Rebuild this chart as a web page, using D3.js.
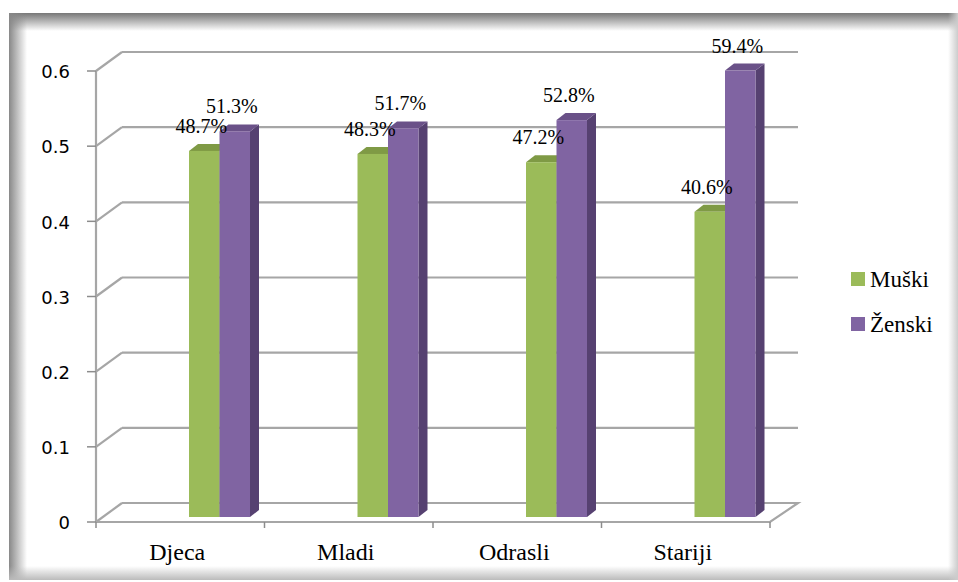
<!DOCTYPE html>
<html>
<head>
<meta charset="utf-8">
<script src="https://cdn.jsdelivr.net/npm/d3@7"></script>
</head>
<body style="margin:0">
<div id="chart"></div>
<script>
var categories = ['Djeca', 'Mladi', 'Odrasli', 'Stariji'];
var seriesNames = ['Muški', 'Ženski'];
var muski = [0.487, 0.483, 0.472, 0.406];
var zenski = [0.513, 0.517, 0.528, 0.594];
var yTicks = [0, 0.1, 0.2, 0.3, 0.4, 0.5, 0.6];

var WIDTH = 958, HEIGHT = 582;
var SERIF = 'Times New Roman', SANS = 'DejaVu Sans';
var colors = {
  'Muški': { front: '#9bbb59', top: '#7f9a45', side: '#6f8a3b' },
  'Ženski': { front: '#8064a2', top: '#6a5188', side: '#564171' }
};

// wall depth and bar depth offsets
var DEPTH_X = 26, DEPTH_Y = -19;
var BAR_DX = 9, BAR_DY = -7;

var svg = d3.select('#chart').append('svg')
  .attr('width', WIDTH)
  .attr('height', HEIGHT);

// frame with soft shadow edges
var defs = svg.append('defs');
function grad(id, x1, y1, x2, y2, c) {
  var g = defs.append('linearGradient').attr('id', id)
    .attr('x1', x1).attr('y1', y1).attr('x2', x2).attr('y2', y2);
  g.append('stop').attr('offset', 0).attr('stop-color', c).attr('stop-opacity', 1);
  g.append('stop').attr('offset', 1).attr('stop-color', c).attr('stop-opacity', 0);
}
grad('gTop', 0, 0, 0, 1, '#777');
grad('gLeft', 0, 0, 1, 0, '#888');
grad('gBottom', 0, 1, 0, 0, '#bbb');
grad('gRight', 1, 0, 0, 0, '#ccc');

svg.append('rect').attr('x', 9).attr('y', 13).attr('width', 949).attr('height', 18).attr('fill', 'url(#gTop)');
svg.append('rect').attr('x', 9).attr('y', 13).attr('width', 18).attr('height', 567).attr('fill', 'url(#gLeft)');
svg.append('rect').attr('x', 9).attr('y', 566).attr('width', 949).attr('height', 14).attr('fill', 'url(#gBottom)');
svg.append('rect').attr('x', 948).attr('y', 13).attr('width', 10).attr('height', 567).attr('fill', 'url(#gRight)');

var x = d3.scaleBand()
  .domain(categories)
  .range([96, 770]);

var xInner = d3.scaleBand()
  .domain(seriesNames)
  .range([0, 61]);

var y = d3.scaleLinear()
  .domain([0, 0.6])
  .range([522, 71]);

var grid = svg.append('g').attr('class', 'walls')
  .attr('stroke', '#a6a6a6')
  .attr('stroke-width', 2.2)
  .attr('fill', 'none');

// back wall gridlines + left wall diagonals
yTicks.forEach(function(t) {
  if (t > 0) {
    grid.append('line')
      .attr('x1', 96 + DEPTH_X).attr('y1', y(t) + DEPTH_Y)
      .attr('x2', 798).attr('y2', y(t) + DEPTH_Y);
  }
  grid.append('line')
    .attr('x1', 96).attr('y1', y(t))
    .attr('x2', 96 + DEPTH_X).attr('y2', y(t) + DEPTH_Y);
});

// floor
grid.append('path')
  .attr('d', 'M' + (96 + DEPTH_X) + ',' + (y(0) + DEPTH_Y) +
    'L798,' + (y(0) + DEPTH_Y) +
    'L770,' + y(0) +
    'L96,' + y(0));

// y axis
var yAxis = svg.append('g').attr('class', 'y-axis');
yAxis.append('line')
  .attr('x1', 96).attr('x2', 96).attr('y1', y(0)).attr('y2', y(0.6))
  .attr('stroke', '#a6a6a6').attr('stroke-width', 2.2);
var yTick = yAxis.selectAll('.ytick')
  .data(yTicks)
  .enter().append('g')
    .attr('class', 'ytick')
    .attr('transform', function(d) { return 'translate(0,' + y(d) + ')'; });
yTick.append('line')
  .attr('x1', 87).attr('x2', 96)
  .attr('stroke', '#8c8c8c').attr('stroke-width', 1.5);
yTick.append('text')
  .attr('font-family', SANS)
  .attr('font-size', 18)
  .attr('x', 70)
  .attr('dy', '0.4em')
  .attr('text-anchor', 'end')
  .text(function(d) { return d === 0 ? '0' : d3.format('.1f')(d); });

// x axis ticks and labels
var xAxis = svg.append('g').attr('transform', 'translate(0,' + y(0) + ')');
xAxis.selectAll('.xtick')
  .data(categories.concat(['__end']))
  .enter().append('line')
    .attr('x1', function(d) { return d === '__end' ? 770 : x(d); })
    .attr('x2', function(d) { return d === '__end' ? 770 : x(d); })
    .attr('y1', 0).attr('y2', 6)
    .attr('stroke', '#8c8c8c').attr('stroke-width', 1.5);
xAxis.selectAll('.xlabel')
  .data(categories)
  .enter().append('text')
    .attr('font-family', SERIF)
    .attr('font-size', 24)
    .attr('x', function(d) { return x(d) + x.bandwidth() / 2 - 3; })
    .attr('y', 38)
    .attr('text-anchor', 'middle')
    .text(function(d) { return d; });

// bars
var rows = categories.map(function(c, i) {
  return { category: c, values: [
    { name: seriesNames[0], value: muski[i] },
    { name: seriesNames[1], value: zenski[i] }
  ] };
});

var GROUP_OFF = 93, BAR_LIFT = -5;

var groups = svg.selectAll('.group')
  .data(rows)
  .enter().append('g')
    .attr('class', 'group')
    .attr('transform', function(d) {
      return 'translate(' + (x(d.category) + GROUP_OFF) + ',' + BAR_LIFT + ')';
    });

groups.each(function(row) {
  var g = d3.select(this);
  row.values.forEach(function(v) {
    var x0 = xInner(v.name), w = xInner.bandwidth();
    var y0 = y(0), y1 = y(v.value);
    var c = colors[v.name];
    // side
    g.append('path')
      .attr('d', 'M' + (x0 + w) + ',' + y1 + 'L' + (x0 + w + BAR_DX) + ',' + (y1 + BAR_DY) +
        'L' + (x0 + w + BAR_DX) + ',' + (y0 + BAR_DY) + 'L' + (x0 + w) + ',' + y0 + 'Z')
      .attr('fill', c.side);
    // top
    g.append('path')
      .attr('d', 'M' + x0 + ',' + y1 + 'L' + (x0 + BAR_DX) + ',' + (y1 + BAR_DY) +
        'L' + (x0 + w + BAR_DX) + ',' + (y1 + BAR_DY) + 'L' + (x0 + w) + ',' + y1 + 'Z')
      .attr('fill', c.top);
    // front
    g.append('rect')
      .attr('x', x0).attr('y', y1)
      .attr('width', w).attr('height', y0 - y1)
      .attr('fill', c.front);
  });
});

// data labels drawn on top of all bars
groups.each(function(row) {
  var g = d3.select(this);
  row.values.forEach(function(v) {
    g.append('text')
      .attr('font-family', SERIF)
      .attr('font-size', 20)
      .attr('x', xInner(v.name) + xInner.bandwidth() / 2 - 3)
      .attr('y', y(v.value) - 18)
      .attr('text-anchor', 'middle')
      .text(d3.format('.1%')(v.value));
  });
});

// legend
var legend = svg.selectAll('.legend')
  .data(seriesNames)
  .enter().append('g')
    .attr('class', 'legend')
    .attr('transform', function(d, i) { return 'translate(851,' + (272 + i * 45) + ')'; });
legend.append('rect')
  .attr('width', 14).attr('height', 14)
  .attr('fill', function(d) { return colors[d].front; });
legend.append('text')
  .attr('font-family', SERIF)
  .attr('font-size', 23)
  .attr('x', 19).attr('y', 15)
  .text(function(d) { return d; });
</script>
</body>
</html>
